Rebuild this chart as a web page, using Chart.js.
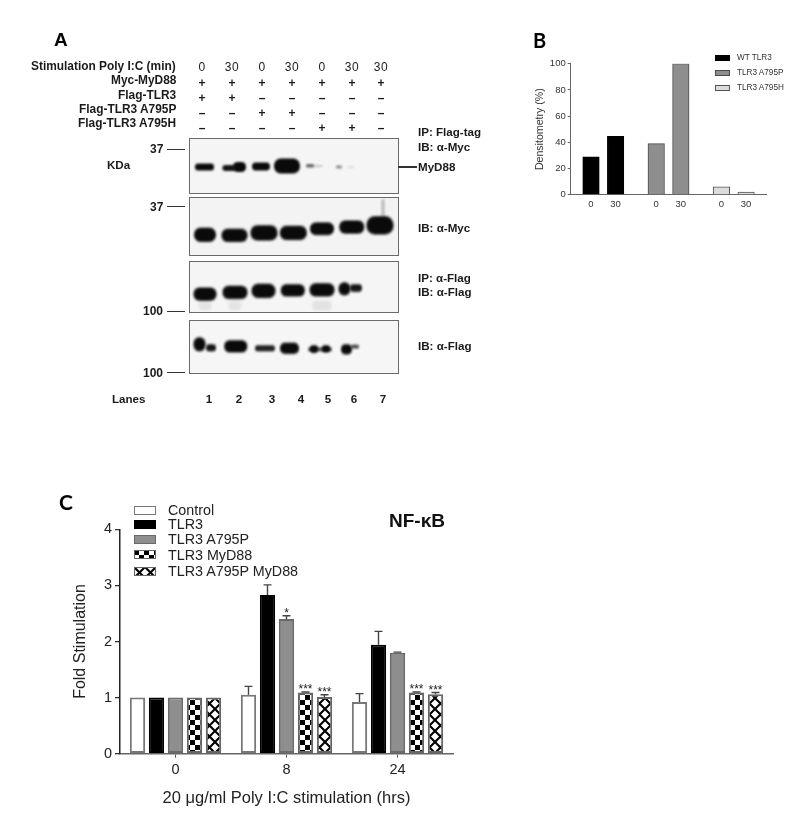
<!DOCTYPE html>
<html><head><meta charset="utf-8">
<script src="https://cdn.jsdelivr.net/npm/chart.js@4/dist/chart.umd.min.js"></script>
<style>
html,body{margin:0;padding:0;background:#fff;width:800px;height:827px;overflow:hidden}
canvas{position:absolute;display:block}
.t{position:absolute;white-space:nowrap;font-family:"Liberation Sans",Arial,sans-serif;color:#1a1a1a;line-height:1;transform:translateY(-50%);will-change:transform}
.b{font-weight:700;font-size:11.6px}
.line{position:absolute;background:#333;height:1.4px}
</style></head><body>
<script>
// ---------- Panel C data ----------
const hours = ['0','8','24'];
const controlValues = [1, 1.05, 0.92];
const tlr3Values = [1, 2.83, 1.94];
const a795pValues = [1, 2.40, 1.80];
const myd88Values = [1, 1.09, 1.09];
const a795pMyd88Values = [1, 1.01, 1.06];
const controlUpper = [null, 1.20, 1.07];
const tlr3Upper = [null, 3.01, 2.18];
const a795pUpper = [null, 2.46, 1.81];
const myd88Upper = [null, 1.10, 1.10];
const a795pMyd88Upper = [null, 1.05, 1.09];
const a795pStars = ['', '*', ''];
const myd88Stars = ['', '***', '***'];
const a795pMyd88Stars = ['', '***', '***'];
// ---------- Panel B data ----------
const densitySlots = [0, 1, 2.65, 3.65, 5.3, 6.3];
const densityLabels = ['0','30','0','30','0','30'];
const wtDensity = [29, 44.5];
const a795pDensity = [39, 100];
const a795hDensity = [6, 2];
// ---------- Panel A data: [across gel, down gel, band length, band thickness, density] ----------
const myd88Bands = [[15.5,29,19,7,1],[40,30,13,6,.95],[50.5,29,13,10,1],[72,28.5,18,8,1],[98,28,26,15,1],
 [121,28,8,3.5,.6],[129,28,9,2,.2],[150,29,6,3,.45],[162,29,6,2,.12]];
const mycInputBands = [[16,37.4,22,14,1],[45.5,38,26,13,1],[75,35.5,27,15,1],[104.3,35.5,27,14,1],
 [133,31.7,24,12.5,1],[162.7,29.7,25,13,1],[191,28,27,18,1],[194,11,3,18,.25]];
const flagIpBands = [[16,32.7,23,13,1],[46,31,25,13,1],[74.5,29.5,24,14,1],[103.8,29,24,12,1],[133,28.5,25,13,1],
 [155.5,27.5,12,13,1],[167,27,12,7.5,.95],[16,44,14,10,.07],[46,44,14,10,.07],[133,44,20,10,.08]];
const flagInputBands = [[10.5,24,12,14,1],[22,27.5,10,7,.95],[46.7,26,23,12,1],[76,28,20,6,.9],[100.5,28,19,11,1],
 [125,29,8,7.5,1],[131,29,24,4,.7],[137,28.5,8,7,1],[157.5,29,11,10,1],[166,26.5,8,3.5,.8]];
// ---------- Panel A labels ----------
const laneColumns = ['0','30','0','30','0','30','30'];
const treatmentNames = ['Myc-MyD88','Flag-TLR3','Flag-TLR3 A795P','Flag-TLR3 A795H'];
const treatmentRows = [['+','+','+','+','+','+','+'],['+','+','–','–','–','–','–'],['–','–','+','+','–','–','–'],['–','–','–','–','+','+','–']];
const laneNumbers = ['1','2','3','4','5','6','7'];

const FONT = '"Liberation Sans", Arial, sans-serif';
Chart.defaults.font.family = FONT;
Chart.defaults.animation = false;
Chart.defaults.responsive = false;
Chart.defaults.maintainAspectRatio = false;
Chart.defaults.devicePixelRatio = 1;

function mk(left, top, w, h){
  const c = document.createElement('canvas');
  c.width = w; c.height = h;
  c.style.left = left+'px'; c.style.top = top+'px';
  c.style.width = w+'px'; c.style.height = h+'px';
  document.body.appendChild(c);
  return c;
}
function label(text, x, y, cls, style){
  const d = document.createElement('div');
  d.className = 't '+(cls||'');
  d.textContent = text;
  d.style.left = x+'px'; d.style.top = y+'px';
  if(style) Object.assign(d.style, style);
  document.body.appendChild(d);
  return d;
}
function rule(x, y, w){
  const d = document.createElement('div');
  d.className='line';
  d.style.left=x+'px'; d.style.top=(y-.7)+'px'; d.style.width=w+'px';
  document.body.appendChild(d);
}
function tile(size, paint){
  const c = document.createElement('canvas');
  c.width=c.height=size;
  const g=c.getContext('2d');
  g.fillStyle='#fff'; g.fillRect(0,0,size,size);
  paint(g);
  return document.createElement('canvas').getContext('2d').createPattern(c,'repeat');
}
const checker = tile(10,g=>{g.fillStyle='#000';g.fillRect(0,0,5,5);g.fillRect(5,5,5,5);});
const hatch = tile(11,g=>{g.strokeStyle='#000';g.lineWidth=2.1;
  g.beginPath();g.moveTo(-1,-1);g.lineTo(12,12);g.moveTo(-1,12);g.lineTo(12,-1);g.stroke();});

// ---------- Gel chart for panel A ----------
function bandSprite(len, thick, density){
  const pad=5;
  const c=document.createElement('canvas');
  c.width=Math.ceil(len+pad*2); c.height=Math.ceil(thick+pad*2);
  const g=c.getContext('2d');
  g.filter='blur(1px)';
  g.fillStyle='rgba(10,10,10,'+density+')';
  g.beginPath();
  g.roundRect(pad,pad,len,thick,thick*.46);
  g.fill();
  return c;
}
function gel(left, top, w, h, bands, bg){
  const c=mk(left,top,w,h);
  c.style.background=bg;
  c.style.outline='1px solid #6a6a6a';
  c.style.outlineOffset='-1px';
  const sprites=bands.map(b=>bandSprite(b[2],b[3],b[4]));
  new Chart(c,{type:'scatter',
    data:{datasets:[{data:bands.map(b=>({x:b[0],y:b[1]})),showLine:false,
      pointRadius:1,pointStyle:ctx=>sprites[ctx.dataIndex],clip:false}]},
    options:{layout:{autoPadding:false,padding:0},
      plugins:{legend:{display:false},tooltip:{enabled:false}},
      scales:{x:{display:false,min:0,max:w},y:{display:false,min:0,max:h,reverse:true}}}});
}
gel(189,138,210,56,myd88Bands,'#f5f5f5');
gel(189,197,210,58.5,mycInputBands,'#f3f3f3');
gel(189,261,210,51.5,flagIpBands,'#f5f5f5');
gel(189,320,210,53.5,flagInputBands,'#f6f6f6');

// ---------- Panel A text ----------
const colX=[202.3,231.7,262.3,292.3,322,351.7,381];
const laneX=[209,239,271.7,301,327.7,353.7,383.3];
const rowLabelY=[81,95.7,110,124];
const rowMarkY=[83.3,98.3,113.3,128.3];
label('Stimulation Poly I:C (min)',0,66.7,'b',{left:'auto',right:(800-176)+'px',fontSize:'11.9px'});
laneColumns.forEach((s,i)=>label(s,colX[i],67.3,'',{fontSize:'12px',letterSpacing:'.5px',transform:'translate(-50%,-50%)'}));
treatmentNames.forEach((n,r)=>{
  label(n,0,rowLabelY[r],'b',{left:'auto',right:(800-176)+'px',fontSize:'11.9px'});
  treatmentRows[r].forEach((s,i)=>label(s,colX[i],rowMarkY[r],'',{fontSize:'12px',fontWeight:'700',transform:'translate(-50%,-50%)'}));
});
label('A',54,39,'',{fontSize:'19px',fontWeight:'700',color:'#000'});
label('KDa',107,165,'b');
[['37',149.3],['37',206.7],['100',311.3],['100',372.7]].forEach(a=>{
  label(a[0],0,a[1],'b',{left:'auto',right:(800-163)+'px',fontSize:'12px'});
  rule(167,a[1],18);
});
rule(398,167,19);
[['IP: Flag-tag',132],['IB: α-Myc',147],['MyD88',167],['IB: α-Myc',228],['IP: α-Flag',277.7],['IB: α-Flag',292],['IB: α-Flag',345.7]]
  .forEach(a=>label(a[0],418,a[1],'b'));
label('Lanes',112,399,'b');
laneNumbers.forEach((s,i)=>label(s,laneX[i],399,'b',{transform:'translate(-50%,-50%)'}));

// ---------- Legends ----------
function legend(chart, x, ys, sw, swh, textX, font, color){
  chart.data.datasets.forEach((d,i)=>{
    const c=mk(x,ys[i]-swh/2,sw,swh);
    const g=c.getContext('2d');
    g.fillStyle=d.backgroundColor; g.fillRect(0,0,sw,swh);
    g.strokeStyle=d.borderColor; g.lineWidth=1; g.strokeRect(.5,.5,sw-1,swh-1);
    label(d.label,textX,ys[i],'',{fontSize:font,color:color});
  });
}

// ---------- Panel B ----------
const pts = (vals,from)=>vals.map((v,i)=>({x:densitySlots[from+i],y:v}));
const chartB=new Chart(mk(520,40,280,180),{type:'bar',
  data:{datasets:[
    {label:'WT TLR3',data:pts(wtDensity,0),backgroundColor:'#000',borderColor:'#000',borderWidth:1},
    {label:'TLR3 A795P',data:pts(a795pDensity,2),backgroundColor:'#8e8e8e',borderColor:'#4a4a4a',borderWidth:1},
    {label:'TLR3 A795H',data:pts(a795hDensity,4),backgroundColor:'#dcdcdc',borderColor:'#555',borderWidth:1}]},
  options:{layout:{autoPadding:false,padding:{top:23.7,right:34,left:0,bottom:0}},
    datasets:{bar:{barThickness:16.5,grouped:false}},
    plugins:{legend:{display:false},tooltip:{enabled:false}},
    scales:{
      x:{type:'linear',offset:false,min:-0.825,max:7.11,
        afterBuildTicks:s=>{s.ticks=densitySlots.map(v=>({value:v}));},
        afterFit:s=>{s.height=25.3;},
        grid:{display:false,drawTicks:false},border:{color:'#666',width:1},
        ticks:{autoSkip:false,maxRotation:0,padding:4,color:'#333',font:{size:9.5},
          callback:(v,i)=>densityLabels[i]}},
      y:{min:0,max:100,afterFit:s=>{s.width=50.7;},
        grid:{drawOnChartArea:false,tickLength:3,color:'#666'},border:{color:'#666',width:1},
        ticks:{stepSize:20,padding:2,color:'#333',font:{size:9.5}},
        title:{display:true,text:'Densitometry (%)',color:'#333',font:{size:10.6},padding:{top:14,bottom:0}}}}}});
legend(chartB,715,[58,72.7,88],15,6,737,'8.2px','#333');
label('B',533,39.5,'',{fontSize:'20px',fontWeight:'700',color:'#000',fontFamily:'Lato,sans-serif'});

// ---------- Panel C ----------
const upperSets=[controlUpper,tlr3Upper,a795pUpper,myd88Upper,a795pMyd88Upper];
const starSets=[null,null,a795pStars,myd88Stars,a795pMyd88Stars];
const errorBars={id:'errorBars',afterDatasetsDraw(chart){
  const g=chart.ctx, y=chart.scales.y;
  g.save();
  upperSets.forEach((up,d)=>{
    chart.getDatasetMeta(d).data.forEach((bar,i)=>{
      if(up[i]==null) return;
      const py=y.getPixelForValue(up[i]);
      g.strokeStyle='#444'; g.lineWidth=1.4;
      g.beginPath();
      g.moveTo(bar.x,bar.y); g.lineTo(bar.x,py);
      g.moveTo(bar.x-4,py); g.lineTo(bar.x+4,py);
      g.stroke();
      const s=starSets[d]&&starSets[d][i];
      if(s){
        g.fillStyle='#222'; g.font='12px '+FONT; g.textAlign='center'; g.textBaseline='alphabetic';
        g.fillText(s,bar.x,py+1.5);
      }
    });
  });
  g.restore();
}};
const bw={borderWidth:2,borderColor:'#555',borderSkipped:false};
const chartC=new Chart(mk(50,500,420,320),{type:'bar',
  data:{labels:hours,datasets:[
    {label:'Control',data:controlValues,backgroundColor:'#fff',...bw,borderColor:'#777'},
    {label:'TLR3',data:tlr3Values,backgroundColor:'#000',...bw,borderColor:'#000'},
    {label:'TLR3 A795P',data:a795pValues,backgroundColor:'#8e8e8e',...bw,borderColor:'#6a6a6a'},
    {label:'TLR3 MyD88',data:myd88Values,backgroundColor:checker,...bw,borderColor:'#666'},
    {label:'TLR3 A795P MyD88',data:a795pMyd88Values,backgroundColor:hatch,...bw,borderColor:'#666'}]},
  options:{layout:{autoPadding:false,padding:{top:29.3,right:17,left:0,bottom:0}},
    datasets:{bar:{categoryPercentage:.856,barPercentage:.805}},
    plugins:{legend:{display:false},tooltip:{enabled:false}},
    scales:{
      x:{afterFit:s=>{s.height=66.3;},
        grid:{offset:false,drawOnChartArea:false,tickLength:4,color:'#555',lineWidth:1},border:{color:'#666',width:1.5},
        ticks:{padding:4,color:'#222',font:{size:14.5},maxRotation:0},
        title:{display:true,text:'20 μg/ml Poly I:C stimulation (hrs)',color:'#222',font:{size:16.5},padding:{top:0,bottom:12}}},
      y:{min:0,max:4,afterFit:s=>{s.width=70;},
        grid:{drawOnChartArea:false,tickLength:5,color:'#333',lineWidth:1.3},border:{color:'#222',width:1.5},
        ticks:{stepSize:1,padding:3,color:'#222',font:{size:14.5}},
        title:{display:true,text:'Fold Stimulation',color:'#222',font:{size:16},padding:{top:21,bottom:0}}}}},
  plugins:[errorBars]});
legend(chartC,134,[510,524.3,539.3,554.7,571],22,9,168,'14.3px','#222');
label('C',59,501,'',{fontSize:'21px',fontWeight:'700',color:'#000',fontFamily:'Lato,sans-serif'});
label('NF-κB',389,520,'',{fontSize:'19px',fontWeight:'700',color:'#111'});
</script>
</body></html>
